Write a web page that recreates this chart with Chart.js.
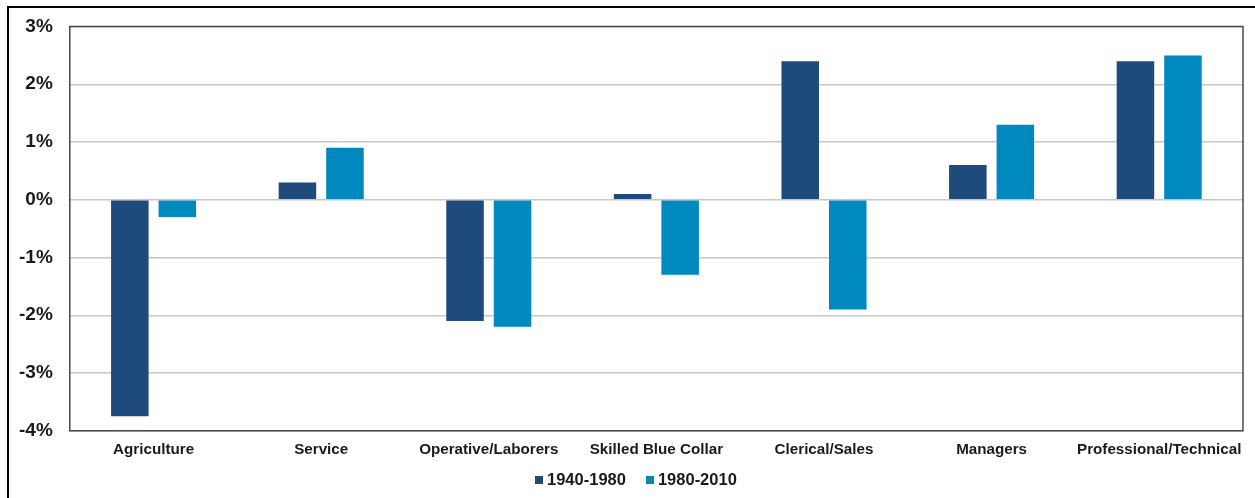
<!DOCTYPE html>
<html lang="en">
<head>
  <meta charset="UTF-8">
  <title>Occupational employment growth</title>
  <script src="https://cdn.jsdelivr.net/npm/chart.js"></script>
  <style>
    html, body { margin: 0; padding: 0; background: #fff; }
    body { width: 1255px; height: 498px; position: relative; overflow: hidden; font-family: Arial, "Liberation Sans", sans-serif; }
    .frame { position: absolute; left: 7px; top: 6px; width: 1260px; height: 510px; border-left: 2px solid #000; border-top: 2px solid #000; }
    .wrap { position: absolute; left: 0; top: 0; width: 1255px; height: 498px; }
    .legend { position: absolute; left: 535px; top: 470px; display: flex; align-items: center; font-weight: bold; font-size: 16.5px; color: #1a1a1a; }
    .legend .item { display: flex; align-items: center; margin-right: 20px; }
    .legend .box { width: 8px; height: 8px; margin-right: 4px; }
  </style>
</head>
<body>
  <div class="frame"></div>
  <div class="wrap"><canvas id="chart"></canvas></div>
  <div class="legend" id="legend"></div>

  <script>
    const categories = ["Agriculture", "Service", "Operative/Laborers", "Skilled Blue Collar", "Clerical/Sales", "Managers", "Professional/Technical"];
    const series1940 = [-3.75, 0.3, -2.1, 0.1, 2.4, 0.6, 2.4];
    const series1980 = [-0.3, 0.9, -2.2, -1.3, -1.9, 1.3, 2.5];
    const yTicks = [3, 2, 1, 0, -1, -2, -3, -4];

    // frame around the plot area
    const plotFrame = {
      id: 'plotFrame',
      afterDraw(chart) {
        const a = chart.chartArea, ctx = chart.ctx;
        ctx.save();
        ctx.strokeStyle = '#4a4a46';
        ctx.lineWidth = 1.5;
        ctx.strokeRect(a.left, a.top, a.right - a.left, a.bottom - a.top);
        ctx.restore();
      }
    };

    const chart = new Chart(document.getElementById('chart'), {
      type: 'bar',
      data: {
        labels: categories,
        datasets: [
          { label: '1940-1980', data: series1940, backgroundColor: '#1F4A7C' },
          { label: '1980-2010', data: series1980, backgroundColor: '#0089BF' }
        ]
      },
      options: {
        responsive: true,
        maintainAspectRatio: false,
        animation: false,
        categoryPercentage: 0.567,
        barPercentage: 0.79,
        layout: { padding: { left: 2, right: 12, top: 12, bottom: 29 } },
        scales: {
          y: {
            min: -4, max: 3,
            afterBuildTicks(scale) { scale.ticks = yTicks.map(v => ({ value: v })); },
            ticks: {
              callback: v => v + '%',
              color: '#1a1a1a',
              font: { family: 'Arial, "Liberation Sans"', size: 19, weight: 'bold', lineHeight: 1 },
              padding: 17
            },
            grid: { color: '#c8c8c2', lineWidth: 1.5, drawTicks: false },
            border: { display: false }
          },
          x: {
            ticks: {
              color: '#1a1a1a',
              font: { family: 'Arial, "Liberation Sans"', size: 15.2, weight: 'bold' },
              padding: 10,
              maxRotation: 0,
              autoSkip: false
            },
            grid: { display: false, drawTicks: false },
            border: { display: false }
          }
        },
        plugins: {
          legend: { display: false },
          tooltip: { enabled: false }
        }
      },
      plugins: [plotFrame]
    });

    // legend as html, built from the datasets
    document.getElementById('legend').innerHTML = chart.data.datasets.map(ds =>
      `<div class="item"><span class="box" style="background:${ds.backgroundColor}"></span>${ds.label}</div>`
    ).join('');
  </script>
</body>
</html>
